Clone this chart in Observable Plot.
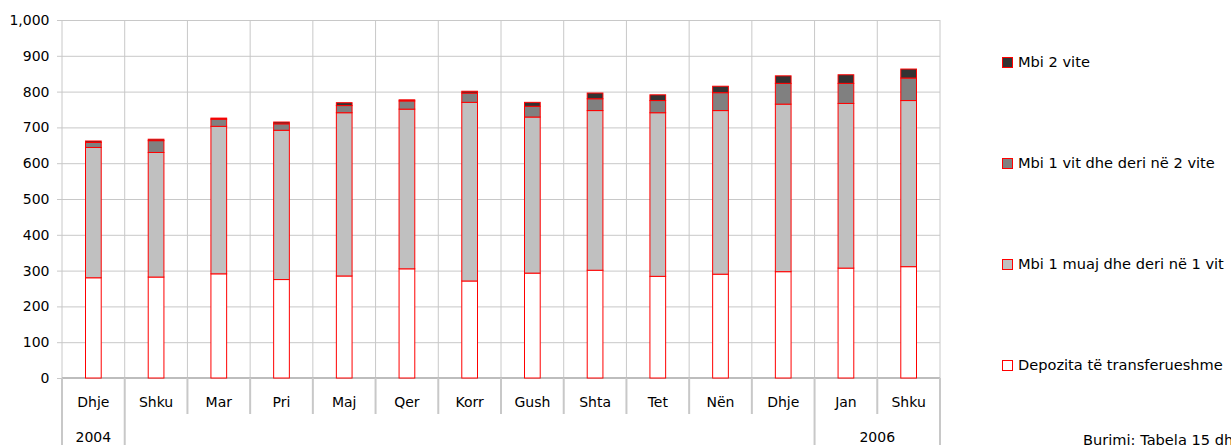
<!DOCTYPE html>
<html><head><meta charset="utf-8">
<script src="https://cdn.jsdelivr.net/npm/d3@7"></script>
<script src="https://cdn.jsdelivr.net/npm/@observablehq/plot@0.6"></script>
<style>
body{margin:0;background:#fff;font-family:"DejaVu Sans",sans-serif;}
#wrap{position:relative;width:1231px;height:445px;overflow:hidden;}
#wrap svg{position:absolute;left:0;top:0;}
.leg{position:absolute;left:1002px;height:18px;line-height:18px;font-size:14.6px;color:#000;white-space:nowrap;display:flex;align-items:center;}
.sw{width:9px;height:9px;border:1px solid #ff0000;margin-right:5px;box-sizing:content-box;}
.cap{position:absolute;left:1083px;top:431px;font-size:14.6px;line-height:18px;white-space:nowrap;color:#000;}
</style></head><body><div id="wrap"></div>
<script>
// Data
const months = ["Dhje","Shku","Mar","Pri","Maj","Qer","Korr","Gush","Shta","Tet","Nën","Dhje","Jan","Shku"];
const yearOf = ["2004","2005","2005","2005","2005","2005","2005","2005","2005","2005","2005","2005","2006","2006"];
const shownYears = ["2004","2006"];
const seriesNames = ["Depozita të transferueshme","Mbi 1 muaj dhe deri në 1 vit","Mbi 1 vit dhe deri në 2 vite","Mbi 2 vite"];
const seriesColors = ["#ffffff","#c0c0c0","#808080","#333333"];
const depozita = [280,282,291,275,285,305,271,293,301,284,290,297,307,311];
const muaj1vit = [364,348,412,417,456,446,499,436,446,457,457,468,460,464];
const vit1vit2 = [14,33,20,18,20,23,26,30,33,34,50,58,56,63];
const mbi2vite = [4,4,3,5,8,3,5,11,16,16,18,21,24,25];
const yTicks = [0,100,200,300,400,500,600,700,800,900,1000];
const caption = "Burimi: Tabela 15 dhe 16";

const seriesValues = [depozita, muaj1vit, vit1vit2, mbi2vite];
const rows = [];
seriesNames.forEach((s, k) => seriesValues[k].forEach((v, i) => rows.push({i, series: s, value: v})));

const W = 1231, H = 445;
const gridColor = "#c8c8c8";

function categoryFrame(index, scales, values, dims) {
  const g = d3.create("svg:g");
  const x = scales.x;
  const n = months.length;
  const bw = x(1) - x(0);
  const top = dims.marginTop, bottom = dims.height - dims.marginBottom;
  const edge = b => b < n ? x(b) : x(n - 1) + bw;
  for (let b = 0; b <= n; b++) {
    g.append("line").attr("x1", edge(b)).attr("x2", edge(b)).attr("y1", top).attr("y2", bottom)
      .attr("stroke", gridColor).attr("stroke-width", 1);
  }
  g.append("line").attr("x1", edge(0)).attr("x2", edge(n)).attr("y1", bottom).attr("y2", bottom)
    .attr("stroke", "#bdbdbd").attr("stroke-width", 2);
  for (let b = 0; b <= n; b++) {
    const yearBoundary = b === 0 || b === n || yearOf[b] !== yearOf[b - 1];
    g.append("line").attr("x1", edge(b)).attr("x2", edge(b)).attr("y1", bottom)
      .attr("y2", yearBoundary ? dims.height : bottom + 36)
      .attr("stroke", gridColor).attr("stroke-width", 2);
  }
  months.forEach((m, i) => {
    g.append("text").attr("x", x(i) + bw / 2).attr("y", bottom + 24).attr("dy", "0.35em")
      .attr("text-anchor", "middle").attr("fill", "#000").text(m);
  });
  shownYears.forEach(yr => {
    const idx = d3.range(n).filter(i => yearOf[i] === yr);
    const cx = (edge(idx[0]) + edge(idx[idx.length - 1] + 1)) / 2;
    g.append("text").attr("x", cx).attr("y", bottom + 59).attr("dy", "0.35em")
      .attr("text-anchor", "middle").attr("fill", "#000").text(yr);
  });
  return g.node();
}

const plot = Plot.plot({
  width: W, height: H,
  marginLeft: 62, marginRight: 291, marginTop: 20, marginBottom: 67,
  style: {fontFamily: "DejaVu Sans, sans-serif", fontSize: "14px", color: "#000", background: "transparent", overflow: "visible"},
  x: {type: "band", domain: d3.range(months.length), padding: 0, round: false, axis: null},
  y: {domain: [0, 1000]},
  color: {domain: seriesNames, range: seriesColors},
  marks: [
    Plot.ruleY(yTicks, {stroke: gridColor, strokeWidth: 1}),
    categoryFrame,
    Plot.axisY({ticks: yTicks, tickFormat: d3.format(","), tickSize: 5, tickPadding: 8, stroke: gridColor, fill: "#000", label: null}),
    Plot.barY(rows, {x: "i", y: "value", fill: "series", stroke: "#ff0000", strokeWidth: 1, insetLeft: 23.5, insetRight: 23.5})
  ]
});

const wrap = document.getElementById("wrap");
wrap.appendChild(plot);

const legendY = [62, 163, 264, 365];
[3, 2, 1, 0].forEach((k, j) => {
  const d = document.createElement("div");
  d.className = "leg";
  d.style.top = (legendY[j] - 9) + "px";
  const sw = document.createElement("span");
  sw.className = "sw";
  sw.style.background = seriesColors[k];
  d.appendChild(sw);
  d.appendChild(document.createTextNode(seriesNames[k]));
  wrap.appendChild(d);
});
const c = document.createElement("div");
c.className = "cap";
c.textContent = caption;
wrap.appendChild(c);
</script>
</body></html>
